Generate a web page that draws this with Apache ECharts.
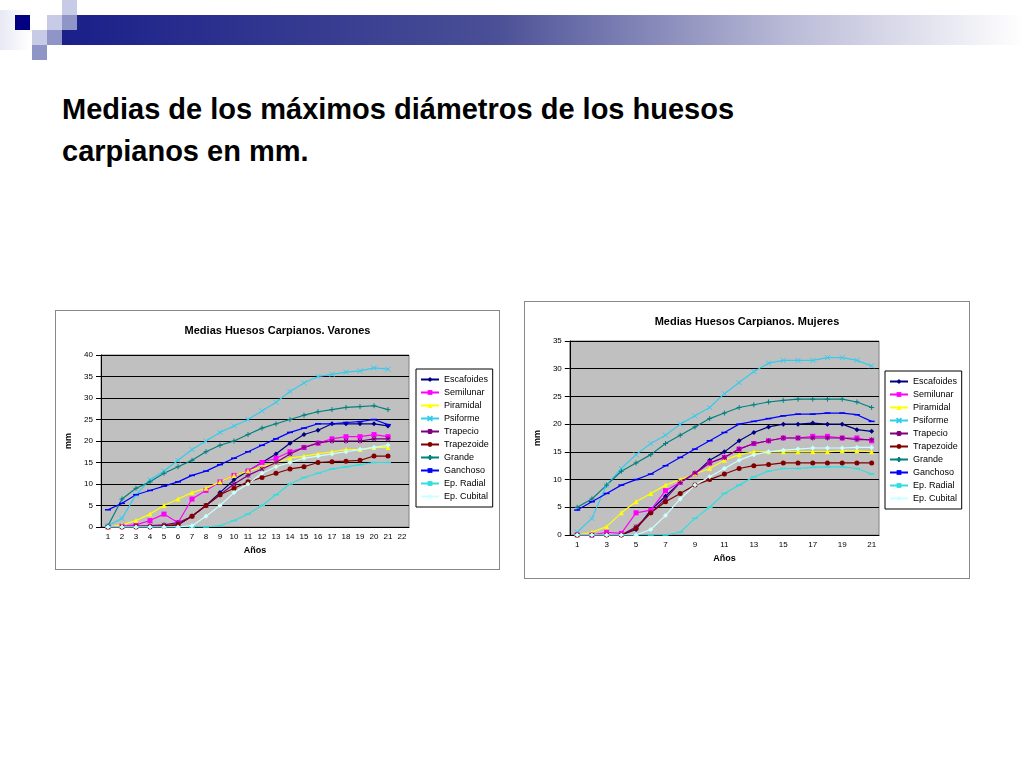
<!DOCTYPE html>
<html><head><meta charset="utf-8">
<script src="https://cdn.jsdelivr.net/npm/echarts@6/dist/echarts.min.js"></script>
<style>
body{margin:0;width:1024px;height:768px;background:#fff;position:relative;overflow:hidden;font-family:Arial,"Liberation Sans",sans-serif}
.sq{position:absolute;width:15px;height:15px}
.box{position:absolute;border:1px solid #888;background:#fff}
h1{position:absolute;left:62px;top:88px;margin:0;font-size:29px;line-height:42px;font-weight:bold;color:#000}
</style></head><body>
<div class="sq" style="left:62px;top:0;background:#c8cbe6"></div>
<div class="sq" style="left:47px;top:15px;background:#c8cbe6"></div>
<div class="sq" style="left:32px;top:30px;background:#c8cbe6"></div>
<div class="sq" style="left:47px;top:30px;background:#9095c8"></div>
<div class="sq" style="left:32px;top:45px;background:#9095c8"></div>
<div style="position:absolute;left:0;top:10px;width:30px;height:40px;background:linear-gradient(90deg,#e8e9f4,#fff)"></div>
<div style="position:absolute;left:62px;top:15px;width:962px;height:30px;background:linear-gradient(90deg,#1a1f8a 0%,#4a4f96 45%,#b8b9d6 75%,#fff 100%)"></div>
<div class="sq" style="left:15px;top:15px;background:#000080"></div>
<div class="sq" style="left:62px;top:15px;background:#9095c8"></div>
<h1>Medias de los máximos diámetros de los huesos<br>carpianos en mm.</h1>
<div id="c1" class="box" style="left:55px;top:310px;width:443px;height:258px"></div>
<div id="c2" class="box" style="left:524px;top:301px;width:444px;height:276px"></div>
<script>
var names = ['Escafoides','Semilunar','Piramidal','Psiforme','Trapecio','Trapezoide','Grande','Ganchoso','Ep. Radial','Ep. Cubital'];
var colors = ['#000080','#ff00ff','#ffff00','#33ccee','#800080','#800000','#008080','#0000ff','#33dddd','#ccffff'];
var symbols = ['diamond','rect','triangle','path://M0,0L10,10M10,0L0,10','path://M5,0L5,10M0,5L10,5M1,1L9,9M9,1L1,9','circle','path://M5,0L5,10M0,5L10,5','rect','rect','diamond'];
var sizes = [5,5,5,5,5,5,5,[6,1.5],[6,1.5],5];

var yearsV = ['1','2','3','4','5','6','7','8','9','10','11','12','13','14','15','16','17','18','19','20','21','22'];
var yearsM = ['1','2','3','4','5','6','7','8','9','10','11','12','13','14','15','16','17','18','19','20','21'];

var escafoidesV = [0,0,0,0,0.3,0.5,2.5,5,8,11,13,15,17,19.5,21.5,22.5,24,24,24,24,23.5];
var semilunarV  = [0,0.2,0.5,1.5,3,1,6.5,8.5,10.5,12,13,15,16,17.5,18.5,19.5,20.5,21,21,21.5,21];
var piramidalV  = [0,0.5,1.5,3,5,6.5,8,9,10.5,12,13,14,15,16,16.5,17,17.5,18,18,18.5,18.5];
var psiformeV   = [0.3,2,7.5,11,13,15.5,18,20,22,23.5,25,27,29,31.5,33.5,35,35.5,36,36.3,37,36.7];
var trapecioV   = [0,0,0.2,0.3,0.5,1,2.5,5,7.5,10,12,13.5,15,17,18.5,19.5,20,20,20,20.5,20.5];
var trapezoideV = [0,0,0,0,0.2,0.5,2.5,5,7.5,9,10.5,11.5,12.5,13.5,14,15,15.2,15.3,15.5,16.5,16.5];
var grandeV     = [0.3,6.5,9,10.5,12.5,14,15.5,17.5,19,20,21.5,23,24,25,26,26.8,27.3,27.8,28,28.2,27.3];
var ganchosoV   = [4,5.5,7.5,8.5,9.5,10.5,12,13,14.5,16,17.5,19,20.5,22,23,24,24,24.3,24.5,25,23.8];
var radialV     = [0,0,0,0,0,0,0,0,0.3,1.5,3,5,7.5,10,11.5,12.5,13.5,14,14.5,15,15];
var cubitalV    = [0,0,0,0,0,0,0.3,2.5,5,8,10,12.5,14,15,16,16.5,17,17.5,18,18.5,19];

var escafoidesM = [0,0,0,0,1,4.5,7,9.5,11,13.5,15,17,18.5,19.5,20,20,20.2,20,20,19,18.7];
var semilunarM  = [0,0,0.5,0.3,4,4.5,8,9.5,11,13,14,15.5,16.5,17,17.5,17.5,17.8,17.8,17.5,17.5,17];
var piramidalM  = [0,0.5,1.5,4,6,7.5,9,10,11,12,13.5,14.5,15,15,15,15,15,15,15.2,15.2,15];
var psiformeM   = [0.5,3,9,12,14.5,16.5,18,20,21.5,23,25.5,27.5,29.5,31,31.5,31.5,31.5,32,32,31.5,30.5];
var trapecioM   = [0,0,0,0,1.5,4,6.5,9.5,11.2,13,14,15.5,16.5,17,17.5,17.5,17.5,17.5,17.5,17.2,17.2];
var trapezoideM = [0,0,0,0,1.2,4,6,7.5,9,10,11,12,12.5,12.7,13,13,13,13,13,13,13];
var grandeM     = [5,6.5,9,11.5,13,14.5,16.5,18,19.5,21,22,23,23.5,24,24.3,24.5,24.5,24.5,24.5,24,23];
var ganchosoM   = [4.5,6,7.5,9,10,11,12.5,14,15.5,17,18.5,20,20.5,21,21.5,21.8,21.8,22,22,21.7,20.5];
var radialM     = [0,0,0,0,0,0,0,0.5,3,5,7.5,9,10.5,11.5,12,12,12.2,12.3,12.3,12,11];
var cubitalM    = [0,0,0,0,0,1,3.5,6.5,9,10.5,12,13.5,14.5,15,15.3,15.5,15.7,15.7,15.7,15.8,15.8];

var dataV = [escafoidesV,semilunarV,piramidalV,psiformeV,trapecioV,trapezoideV,grandeV,ganchosoV,radialV,cubitalV];
var dataM = [escafoidesM,semilunarM,piramidalM,psiformeM,trapecioM,trapezoideM,grandeM,ganchosoM,radialM,cubitalM];

function makeChart(id, title, cats, data, ymax, labelInterval, g) {
  var chart = echarts.init(document.getElementById(id), null, {renderer:'canvas'});
  var font = {fontFamily:'Arial', fontSize:8, color:'#000'};
  chart.setOption({
    animation:false,
    color: colors,
    title:{text:title, left:'center', top:g.titleTop, textStyle:{fontFamily:'Arial',fontSize:11,fontWeight:'bold',color:'#000'}},
    grid:{left:g.left, right:g.right, top:g.top, bottom:g.bottom, show:true, backgroundColor:'#c0c0c0', borderColor:'#808080', borderWidth:1},
    legend:{orient:'vertical', left:g.legLeft, top:g.legTop, itemWidth:18, itemHeight:6, itemGap:4,
      backgroundColor:'#fff', borderColor:'#000', borderWidth:1, padding:[6,4,6,4],
      textStyle:{fontFamily:'Arial',fontSize:9,color:'#000'}, data:names},
    xAxis:{type:'category', data:cats, boundaryGap:true, name:'Años', nameLocation:'middle', nameGap:16,
      nameTextStyle:{fontFamily:'Arial',fontSize:9,fontWeight:'bold'},
      axisLine:{lineStyle:{color:'#000'}}, axisTick:{interval:labelInterval, lineStyle:{color:'#000'}},
      axisLabel:Object.assign({interval:labelInterval, margin:6}, font)},
    yAxis:{type:'value', min:0, max:ymax, interval:5, name:'mm', nameLocation:'middle', nameGap:g.nameGap,
      nameTextStyle:{fontFamily:'Arial',fontSize:9,fontWeight:'bold'},
      axisLine:{show:true,lineStyle:{color:'#000'}}, axisTick:{show:true,lineStyle:{color:'#000'}},
      splitLine:{lineStyle:{color:'#000',width:1}}, axisLabel:font},
    series: names.map(function(n,i){
      return {name:n, type:'line', data:data[i], symbol:symbols[i], symbolSize:sizes[i], showSymbol:true,
        lineStyle:{width:1.2, color:colors[i]}, itemStyle:{color:colors[i], borderColor:colors[i], borderWidth: i===3||i===4||i===6 ? 1 : 0}};
    })
  });
}
makeChart('c1','Medias Huesos Carpianos. Varones', yearsV, dataV, 40, 0,
  {titleTop:9, left:45, right:90, top:44, bottom:42, legLeft:360, legTop:58, nameGap:28});
makeChart('c2','Medias Huesos Carpianos. Mujeres', yearsM, dataM, 35, 1,
  {titleTop:9, left:43, right:90, top:39, bottom:43, legLeft:360, legTop:69, nameGap:26});
</script>
</body></html>
